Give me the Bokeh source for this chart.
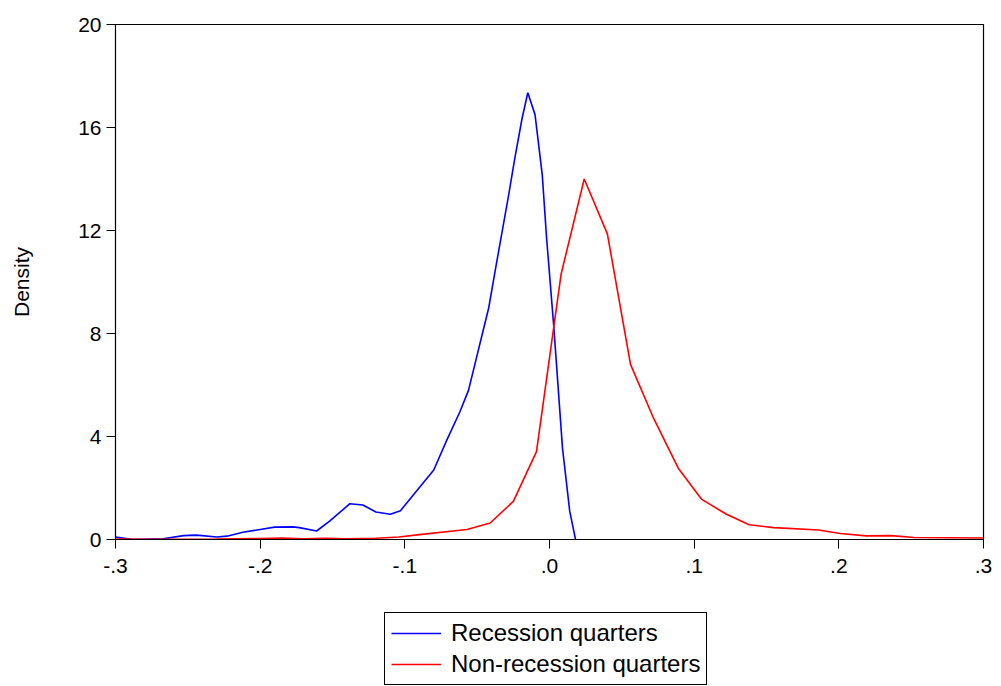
from bokeh.plotting import figure
from bokeh.models import Legend, LegendItem, FixedTicker, Range1d
from bokeh.layouts import column
from bokeh.embed import file_html
from bokeh.resources import INLINE

# Recession quarters density
x_rec = [-0.300, -0.288, -0.267, -0.253, -0.244, -0.230, -0.223, -0.212, -0.200, -0.190,
         -0.177, -0.173, -0.161, -0.152, -0.138, -0.129, -0.120, -0.110, -0.103, -0.095,
         -0.080, -0.071, -0.062, -0.056, -0.042, -0.038, -0.028, -0.024, -0.019, -0.015,
         -0.010, -0.005, -0.002, 0.003, 0.009, 0.014, 0.018]
y_rec = [0.10, 0.00, 0.03, 0.15, 0.17, 0.10, 0.13, 0.28, 0.39, 0.48,
         0.49, 0.46, 0.33, 0.71, 1.39, 1.34, 1.07, 0.98, 1.12, 1.67,
         2.70, 3.86, 4.95, 5.79, 9.00, 10.30, 13.45, 14.80, 16.34, 17.35,
         16.50, 14.16, 11.70, 8.24, 3.54, 1.09, 0.00]

# Non-recession quarters density
x_non = [-0.300, -0.270, -0.250, -0.230, -0.200, -0.185, -0.170, -0.155, -0.140, -0.120,
         -0.104, -0.090, -0.057, -0.041, -0.025, -0.009, 0.008, 0.024, 0.040, 0.056,
         0.072, 0.089, 0.105, 0.122, 0.138, 0.155, 0.186, 0.201, 0.219, 0.236,
         0.252, 0.300]
y_non = [0.02, 0.01, 0.01, 0.02, 0.04, 0.06, 0.03, 0.05, 0.03, 0.05,
         0.10, 0.19, 0.39, 0.64, 1.48, 3.41, 10.30, 14.00, 11.87, 6.80,
         4.70, 2.77, 1.57, 0.99, 0.57, 0.46, 0.37, 0.23, 0.14, 0.15,
         0.08, 0.06]

x_ticks = [-0.3, -0.2, -0.1, 0.0, 0.1, 0.2, 0.3]
x_tick_labels = ["-.3", "-.2", "-.1", ".0", ".1", ".2", ".3"]
y_ticks = [0, 4, 8, 12, 16, 20]
series_names = ["Recession quarters", "Non-recession quarters"]
series_colors = ["#0000FF", "#FF0000"]

FONT = "Liberation Sans"

p = figure(width=1001, height=600, output_backend="svg", toolbar_location=None,
           x_range=Range1d(-0.3, 0.3), y_range=Range1d(0, 20),
           min_border_left=115, min_border_right=18, min_border_top=24, min_border_bottom=61)
p.frame_width = 868
p.frame_height = 515

p.line(x_rec, y_rec, line_color=series_colors[0], line_width=1.6)
p.line(x_non, y_non, line_color=series_colors[1], line_width=1.6)

p.grid.visible = False
p.outline_line_color = "black"
p.outline_line_width = 1.2
p.outline_line_alpha = 1.0
p.background_fill_color = "white"
p.border_fill_color = "white"

p.xaxis.ticker = FixedTicker(ticks=x_ticks)
p.xaxis.major_label_overrides = {t: l for t, l in zip(x_ticks, x_tick_labels)}
p.yaxis.ticker = FixedTicker(ticks=y_ticks)
p.yaxis.axis_label = "Density"

for ax in (p.xaxis[0], p.yaxis[0]):
    ax.major_tick_out = 9
    ax.major_tick_in = 0
    ax.minor_tick_out = 0
    ax.minor_tick_in = 0
    ax.axis_line_color = "black"
    ax.major_tick_line_color = "black"
    ax.major_label_text_font = FONT
    ax.major_label_text_font_size = "21px"
    ax.major_label_text_color = "black"
    ax.axis_label_text_font = FONT
    ax.axis_label_text_font_size = "21px"
    ax.axis_label_text_font_style = "normal"
    ax.axis_label_text_color = "black"

p.xaxis.major_label_standoff = 10
p.yaxis.major_label_standoff = 5
p.yaxis.axis_label_standoff = 42

# Legend strip below the chart (key glyphs sit outside the strip's visible range)
lg = figure(width=1001, height=86, output_backend="svg", toolbar_location=None,
            x_range=Range1d(0, 1), y_range=Range1d(0, 1),
            min_border_left=0, min_border_right=0, min_border_top=0, min_border_bottom=0,
            x_axis_location=None, y_axis_location=None)
lg.frame_width = 1001
lg.frame_height = 86
lg.grid.visible = False
lg.outline_line_color = None
lg.background_fill_color = "white"
lg.border_fill_color = "white"
k1 = lg.line([5, 6], [5, 5], line_color=series_colors[0], line_width=1.6)
k2 = lg.line([5, 6], [5, 5], line_color=series_colors[1], line_width=1.6)

legend = Legend(items=[LegendItem(label=series_names[0], renderers=[k1]),
                       LegendItem(label=series_names[1], renderers=[k2])],
                location=(384, 1), orientation="vertical")
legend.margin = 0
legend.padding = 6
legend.spacing = 3
legend.glyph_width = 50
legend.glyph_height = 20
legend.label_height = 20
legend.label_standoff = 10
legend.label_text_font = FONT
legend.label_text_font_size = "24px"
legend.label_text_color = "black"
legend.border_line_color = "black"
legend.border_line_alpha = 1.0
legend.border_line_width = 1
legend.background_fill_alpha = 1.0
lg.add_layout(legend, "center")

layout = column(p, lg, spacing=0)
open("out.html", "w").write(file_html(layout, INLINE))
